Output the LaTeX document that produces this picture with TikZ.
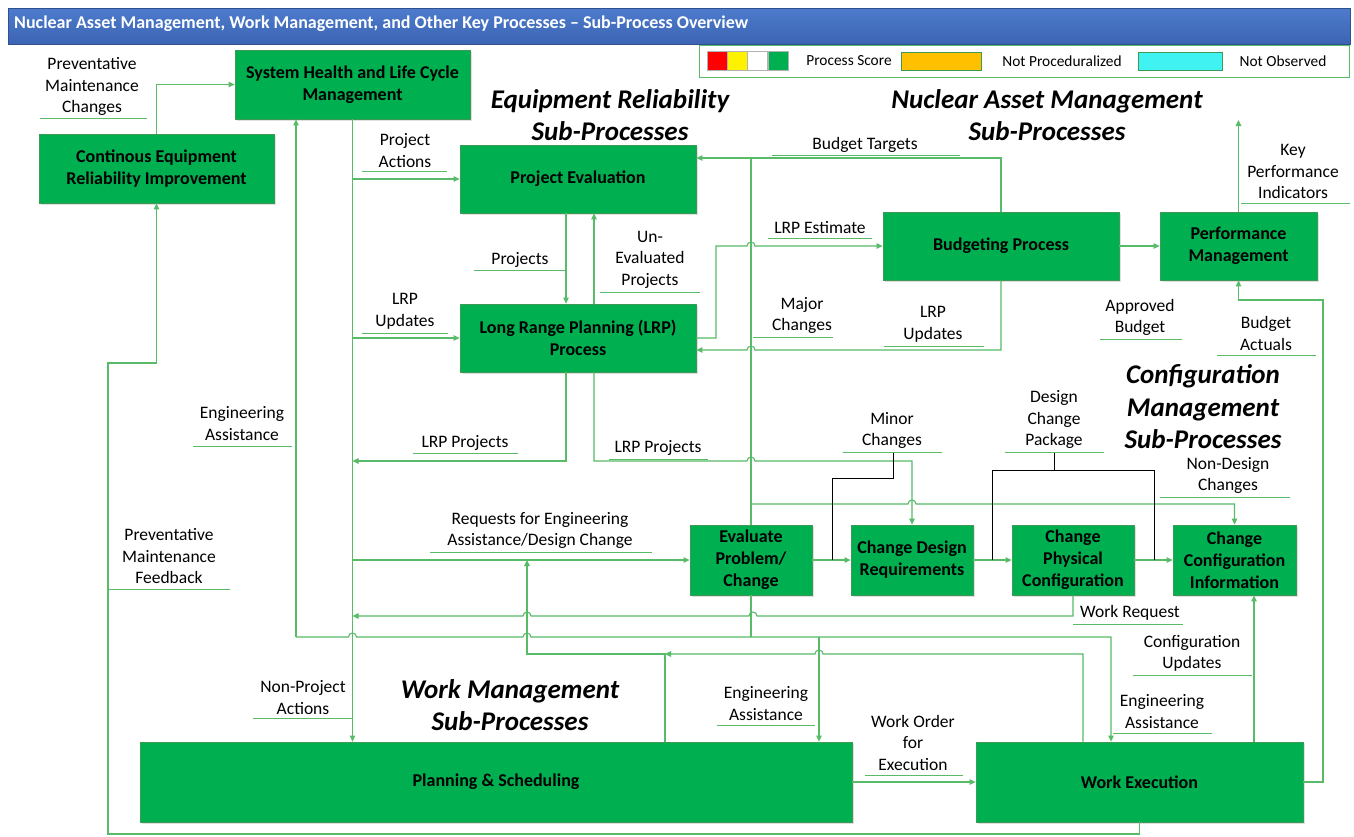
\documentclass[tikz,border=0pt]{standalone}
\usepackage{fontspec}
\setmainfont{Carlito}
\usetikzlibrary{arrows.meta,shadows,calc}
\definecolor{boxgreen}{HTML}{00B050}
\definecolor{boxedge}{HTML}{3C9A55}
\definecolor{lineg}{HTML}{57BB68}
\definecolor{tblue1}{HTML}{4D7BCB}
\definecolor{tblue2}{HTML}{3C64B4}
\definecolor{legorange}{HTML}{FFC000}
\definecolor{legcyan}{HTML}{40F2F2}
\begin{document}
\begin{tikzpicture}[x=1pt,y=-1pt,
 box/.style={draw=boxedge, line width=0.8pt, fill=boxgreen, align=center,
   font=\fontsize{18}{22}\selectfont\bfseries, inner sep=2pt,
   drop shadow={opacity=0.25,shadow xshift=1.5pt,shadow yshift=-1.5pt}},
 flow/.style={draw=lineg, line width=1.1pt, -{Triangle[length=6pt,width=5.5pt]}},
 wire/.style={draw=lineg, line width=1.1pt},
 uline/.style={draw=lineg, line width=0.9pt},
 lbl/.style={align=center, font=\fontsize{17.5}{21.5}\selectfont, inner sep=0pt, yshift=-1.5pt},
 big/.style={align=center, font=\fontsize{27}{32.5}\selectfont\bfseries\itshape, inner sep=0pt, yshift=-1pt},
 blk/.style={draw=black, line width=1pt},
 legsq/.style={draw=gray!60, line width=0.6pt, minimum width=20pt, minimum height=19pt, inner sep=0pt},
 legtxt/.style={font=\fontsize{15.4}{18}\selectfont, inner sep=0pt}
]
\useasboundingbox (0,0) rectangle (1354,836);
\fill[white] (0,0) rectangle (1354,836);

% title bar
\node[draw=tblue2!80!black, line width=0.6pt, top color=tblue1, bottom color=tblue2,
  minimum width=1342pt, minimum height=36pt, inner sep=0pt] (titlebar) at (679,26) {};
\node[anchor=west, text=white, font=\fontsize{18}{22}\selectfont\bfseries, inner sep=0pt] (title) at (14,24)
  {Nuclear Asset Management, Work Management, and Other Key Processes – Sub-Process Overview};

% legend
\node[draw=lineg, line width=0.8pt, fill=white, minimum width=650pt, minimum height=32pt, inner sep=0pt] (legend) at (1024,61) {};
\node[legsq, fill=red] (lr) at (717,61) {};
\node[legsq, fill=yellow] (ly) at (737,61) {};
\node[legsq, fill=white] (lw) at (757.5,61) {};
\node[legsq, fill=boxgreen] (lg) at (778.5,61) {};
\node[legtxt] (lps) at (849,61) {Process Score};
\node[legsq, draw=boxedge, fill=legorange, minimum width=80pt, minimum height=18pt] (lo) at (941,61) {};
\node[legtxt] (lnp) at (1062,61) {Not Proceduralized};
\node[legsq, draw=boxedge, fill=legcyan, minimum width=84pt, minimum height=18pt] (lc) at (1180,61) {};
\node[legtxt] (lno) at (1283,61) {Not Observed};

% boxes
\node[box, minimum width=235pt, minimum height=69pt] (sys) at (352.5,84.5) {System Health and Life Cycle\\Management};
\node[box, minimum width=235pt, minimum height=69pt] (ceri) at (156.5,168.5) {Continous Equipment\\Reliability Improvement};
\node[box, minimum width=236pt, minimum height=68pt] (pe) at (578,179) {Project Evaluation};
\node[box, minimum width=236pt, minimum height=68pt] (lrp) at (578,338) {Long Range Planning (LRP)\\Process};
\node[box, minimum width=236pt, minimum height=68pt] (bud) at (1001,246) {Budgeting Process};
\node[box, minimum width=157pt, minimum height=68pt] (perf) at (1238.5,246) {Performance\\Management};
\node[box, minimum width=122pt, minimum height=70pt] (ev) at (751,560) {Evaluate\\Problem/\\Change};
\node[box, minimum width=122pt, minimum height=70pt] (cdr) at (912,560) {Change Design\\Requirements};
\node[box, minimum width=122pt, minimum height=70pt] (cpc) at (1073,560) {Change\\Physical\\Configuration};
\node[box, minimum width=123pt, minimum height=70pt] (cci) at (1234.5,560) {Change\\Configuration\\Information};
\node[box, minimum width=712pt, minimum height=80pt] (ps) at (496,782) {Planning \& Scheduling};
\node[box, minimum width=327pt, minimum height=80pt] (we) at (1139.5,782) {Work Execution};

% helper coordinates
\coordinate (x296) at (296,0);
\coordinate (x566) at (566,0);
\coordinate (x594) at (594,0);
\coordinate (x665) at (665,0);
\coordinate (x819) at (819,0);
\coordinate (x1083) at (1083,0);
\coordinate (x1111) at (1111,0);
\coordinate (x1139) at (1139.5,0);
\coordinate (x1254) at (1254,0);
\coordinate (y158) at (0,158);
\coordinate (y350) at (0,350);

% connectors
\draw[flow] (ceri.north) |- (sys.west);
\draw[flow] (sys.south) -- (sys.south |- ps.north);
\draw[flow] (pe.west -| sys.south) -- (pe.west);
\draw[flow] (lrp.west -| sys.south) -- (lrp.west);
\draw[flow] (ev.west -| sys.south) -- (ev.west);
\draw[flow] (pe.south -| x566) -- (lrp.north -| x566);
\draw[flow] (lrp.north -| x594) -- (pe.south -| x594);
\draw[flow] (lrp.south -| x566) -- (566,461) -- (352.5,461);
\draw[flow] (lrp.south -| x594) -- (594,461) -- (747,461) arc[start angle=180,end angle=360,radius=4] -- (912,461) -- (cdr.north);
\draw[flow] (lrp.east) -- (716,338) -- (716,246) -- (747,246) arc[start angle=180,end angle=360,radius=4] -- (bud.west);
\draw[flow] (bud.north) -- (1001,158) -- (pe.east |- y158);
\draw[wire] (ev.north) -- (751,158);
\draw[flow] (751,504) -- (908,504) arc[start angle=180,end angle=360,radius=4] -- (1234.5,504) -- (cci.north);
\draw[flow] (bud.south) -- (1001,350) -- (755,350) arc[start angle=0,end angle=-180,radius=4] -- (lrp.east |- y350);
\draw[flow] (bud.east) -- (perf.west);
\draw[flow] (perf.north) -- (1238.5,120);
\draw[flow] (we.east) -- (1323,782) -- (1323,300) -- (1238.5,300) -- (perf.south);
\draw[flow] (ev.east) -- (cdr.west);
\draw[flow] (cdr.east) -- (cpc.west);
\draw[flow] (cpc.east) -- (cci.west);
\draw[flow] (we.north -| x1254) -- (cci.south -| x1254);
\draw[flow] (ps.east) -- (we.west);
\draw[flow] (cpc.south) -- (1073,616) -- (757,616) arc[start angle=0,end angle=-180,radius=4]
   -- (531,616) arc[start angle=0,end angle=-180,radius=4] -- (352.5,616);
\draw[wire] (ev.south) -- (751,637);
\draw[flow] (296,637) -- (sys.south -| x296);
\draw[flow] (296,637) -- (348.5,637) arc[start angle=180,end angle=360,radius=4]
   -- (523,637) arc[start angle=180,end angle=360,radius=4] -- (1111,637) -- (we.north -| x1111);
\draw[flow] (819,637) -- (ps.north -| x819);
\draw[flow] (ps.north -| x665) -- (665,654) -- (527,654) -- (527,560);
\draw[flow] (we.north -| x1083) -- (1083,654) -- (823,654) arc[start angle=0,end angle=-180,radius=4] -- (665,654);
\draw[flow] (we.south -| x1139) -- (1139.5,834) -- (108,834) -- (108,363) -- (156.5,363) -- (ceri.south);

% black brackets
\draw[blk] (893,452) -- (893,478) -- (832,478) -- (832,560);
\draw[blk] (1054,452) -- (1054,470);
\draw[blk] (992,560) -- (992,470) -- (1154,470) -- (1154,560);

% labels
\node[lbl] (l1) at (92,85) {Preventative\\Maintenance\\Changes};
\draw[uline] (40,118) -- (147,118);
\node[lbl] (l2) at (405,149) {Project\\Actions};
\draw[uline] (362,171) -- (447,171);
\node[lbl] (l3) at (520,258) {Projects};
\draw[uline] (474,270) -- (567,270);
\node[lbl] (l4) at (650,258) {Un-\\Evaluated\\Projects};
\draw[uline] (600,292) -- (700,292);
\node[lbl] (l5) at (405,310) {LRP\\Updates};
\draw[uline] (362,333) -- (448,333);
\node[lbl] (l6) at (820,226) {LRP Estimate};
\draw[uline] (768,238) -- (872,238);
\node[lbl] (l7) at (865,143) {Budget Targets};
\draw[uline] (772,155) -- (960,155);
\node[lbl] (l8) at (802,314) {Major\\Changes};
\draw[uline] (753,337) -- (833,337);
\node[lbl] (l9) at (933,323) {LRP\\Updates};
\draw[uline] (884,346) -- (984,346);
\node[lbl] (l10) at (1140,316) {Approved\\Budget};
\draw[uline] (1100,339) -- (1182,339);
\node[lbl] (l11) at (1266,332) {Budget\\Actuals};
\draw[uline] (1217,355) -- (1316,355);
\node[lbl] (l12) at (1293,170) {Key\\Performance\\Indicators};
\draw[uline] (1241,203) -- (1350,203);
\node[lbl] (l13) at (242,422) {Engineering\\Assistance};
\draw[uline] (193,446) -- (292,446);
\node[lbl] (l14) at (465,441) {LRP Projects};
\draw[uline] (413,453) -- (518,453);
\node[lbl] (l15) at (658,446) {LRP Projects};
\draw[uline] (609,459) -- (708,459);
\node[lbl] (l16) at (892,429) {Minor\\Changes};
\draw[uline] (843,452) -- (942,452);
\node[lbl] (l17) at (1054,418) {Design\\Change\\Package};
\draw[uline] (1005,452) -- (1104,452);
\node[lbl] (l18) at (1228,474) {Non-Design\\Changes};
\draw[uline] (1160,497) -- (1290,497);
\node[lbl] (l19) at (540,529) {Requests for Engineering\\Assistance/Design Change};
\draw[uline] (430,552) -- (652,552);
\node[lbl] (l20) at (169,555) {Preventative\\Maintenance\\Feedback};
\draw[uline] (108,589) -- (230,589);
\node[lbl] (l21) at (1130,611) {Work Request};
\draw[uline] (1073,624) -- (1183,624);
\node[lbl] (l22) at (1192,652) {Configuration\\Updates};
\draw[uline] (1133,675) -- (1252,675);
\node[lbl] (l23) at (303,696) {Non-Project\\Actions};
\draw[uline] (253,718) -- (352,718);
\node[lbl] (l24) at (766,702) {Engineering\\Assistance};
\draw[uline] (717,725) -- (815,725);
\node[lbl] (l25) at (1162,710) {Engineering\\Assistance};
\draw[uline] (1113,733) -- (1212,733);
\node[lbl] (l26) at (913,741) {Work Order\\for\\Execution};
\draw[uline] (865,775) -- (963,775);

% section titles
\node[big] (t1) at (610,114) {Equipment Reliability\\Sub-Processes};
\node[big] (t2) at (1047,114) {Nuclear Asset Management\\Sub-Processes};
\node[big] (t3) at (1203,406) {Configuration\\Management\\Sub-Processes};
\node[big] (t4) at (510,704) {Work Management\\Sub-Processes};
\end{tikzpicture}
\end{document}
